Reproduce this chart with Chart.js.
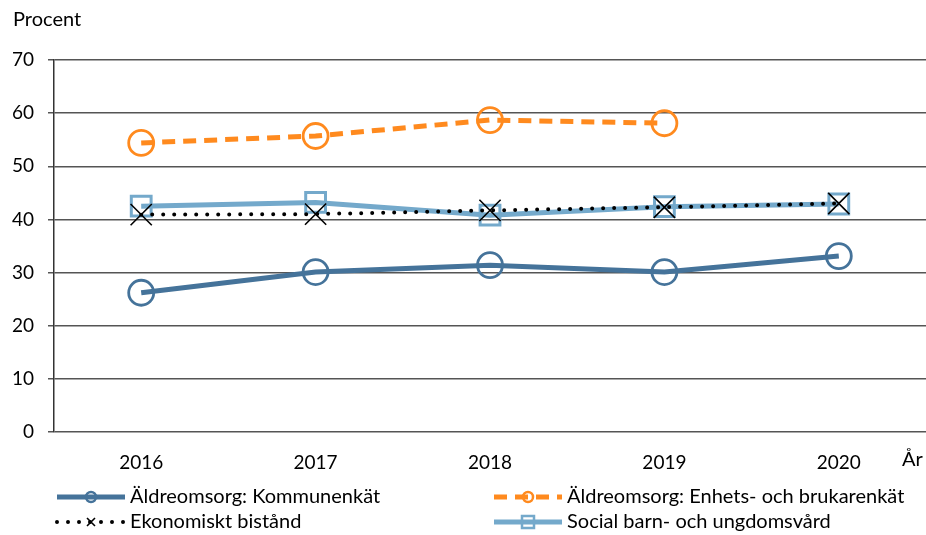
<!DOCTYPE html>
<html>
<head>
<meta charset="utf-8">
<script src="https://cdn.jsdelivr.net/npm/chart.js@4"></script>
<style>
  html, body { margin: 0; padding: 0; background: #fff; }
  #wrap { width: 926px; height: 535px; }
</style>
</head>
<body>
<div id="wrap"><canvas id="myChart" width="926" height="535"></canvas></div>
<script>
// data
const years = ["2016", "2017", "2018", "2019", "2020"];
const yTicks = [0, 10, 20, 30, 40, 50, 60, 70];
const kommunenkat = [26.2, 30.1, 31.4, 30.1, 33.1];
const enhetsBrukare = [54.4, 55.7, 58.7, 58.1, null];
const ekonomisktBistand = [40.9, 41.0, 41.7, 42.3, 43.0];
const socialBarn = [42.5, 43.2, 40.8, 42.4, 42.9];

const FONT = "Lato, 'Open Sans', sans-serif";

// custom legend + axis titles drawn on the canvas
const extras = {
    id: "extras",
    afterDraw(chart) {
        let ctx = chart.ctx;
        ctx.save();
        ctx.font = "20px " + FONT;
        ctx.fillStyle = "#000";
        ctx.textBaseline = "middle";
        ctx.textAlign = "left";
        ctx.fillText("Procent", 13, 20);
        ctx.fillText("År", 902, 460);

        let slots = [
            { x: 57, y: 497 },
            { x: 494, y: 497 },
            { x: 57, y: 522 },
            { x: 494, y: 522 }
        ];
        chart.data.datasets.forEach(function(ds) {
            let s = slots[ds.legendSlot];
            ctx.save();
            ctx.strokeStyle = ds.borderColor;
            ctx.lineWidth = ds.borderWidth;
            ctx.lineCap = ds.borderCapStyle || "butt";
            ctx.setLineDash(ds.borderDash || []);
            ctx.beginPath();
            ctx.moveTo(s.x, s.y);
            ctx.lineTo(s.x + 68, s.y);
            ctx.stroke();
            ctx.restore();
            ctx.save();
            ctx.strokeStyle = ds.pointBorderColor;
            ctx.lineWidth = Math.min(ds.pointBorderWidth, 2.5);
            let r = ds.legendRadius;
            let cx = s.x + 34;
            ctx.beginPath();
            if (ds.pointStyle === "circle") {
                ctx.arc(cx, s.y, r, 0, Math.PI * 2);
            } else if (ds.pointStyle === "rect") {
                ctx.rect(cx - r, s.y - r, r * 2, r * 2);
            } else {
                ctx.moveTo(cx - r, s.y - r);
                ctx.lineTo(cx + r, s.y + r);
                ctx.moveTo(cx + r, s.y - r);
                ctx.lineTo(cx - r, s.y + r);
            }
            ctx.stroke();
            ctx.restore();
            ctx.fillStyle = "#000";
            ctx.fillText(ds.label, s.x + 73, s.y);
        });
        ctx.restore();
    }
};

let ctx = document.getElementById("myChart").getContext("2d");
let chart = new Chart(ctx, {
    type: "line",
    data: {
        labels: years,
        datasets: [
            {
                label: "Ekonomiskt bistånd",
                data: ekonomisktBistand,
                borderColor: "#000000",
                borderWidth: 4,
                borderDash: [0, 11],
                borderCapStyle: "round",
                pointStyle: "crossRot",
                pointRadius: 15,
                pointBorderWidth: 1.6,
                pointBorderColor: "#000000",
                pointBackgroundColor: "rgba(0,0,0,0)",
                legendSlot: 2,
                legendRadius: 4,
                tension: 0
            },
            {
                label: "Social barn- och ungdomsvård",
                data: socialBarn,
                borderColor: "#74A9CB",
                borderWidth: 5,
                pointStyle: "rect",
                pointRadius: 14,
                pointBorderWidth: 3,
                pointBorderColor: "#74A9CB",
                pointBackgroundColor: "rgba(0,0,0,0)",
                legendSlot: 3,
                legendRadius: 6,
                tension: 0
            },
            {
                label: "Äldreomsorg: Enhets- och brukarenkät",
                data: enhetsBrukare,
                borderColor: "#FF8A1E",
                borderWidth: 5,
                borderDash: [13, 8],
                pointStyle: "circle",
                pointRadius: 12.5,
                pointBorderWidth: 2.8,
                pointBorderColor: "#FF8A1E",
                pointBackgroundColor: "rgba(0,0,0,0)",
                legendSlot: 1,
                legendRadius: 5,
                tension: 0
            },
            {
                label: "Äldreomsorg: Kommunenkät",
                data: kommunenkat,
                borderColor: "#45739A",
                borderWidth: 5,
                pointStyle: "circle",
                pointRadius: 12.5,
                pointBorderWidth: 2.8,
                pointBorderColor: "#45739A",
                pointBackgroundColor: "rgba(0,0,0,0)",
                legendSlot: 0,
                legendRadius: 5,
                tension: 0
            }
        ]
    },
    options: {
        responsive: false,
        animation: false,
        layout: { autoPadding: false, padding: { top: 60, right: 0, left: 0, bottom: 0 } },
        plugins: {
            legend: { display: false },
            tooltip: { enabled: false }
        },
        scales: {
            x: {
                offset: true,
                grid: { display: false },
                border: { display: false },
                ticks: { color: "#000", font: { family: FONT, size: 19 }, padding: 11 },
                afterFit: function(s) { s.height = 103; }
            },
            y: {
                min: 0,
                max: 70,
                afterBuildTicks: function(s) { s.ticks = yTicks.map(v => ({ value: v })); },
                grid: { color: "#555555", lineWidth: 1.5, tickLength: 6 },
                border: { color: "#333333", width: 1.5 },
                ticks: { color: "#000", font: { family: FONT, size: 19 }, padding: 14 },
                afterFit: function(s) { s.width = 54; }
            }
        }
    },
    plugins: [extras]
});
</script>
</body>
</html>
